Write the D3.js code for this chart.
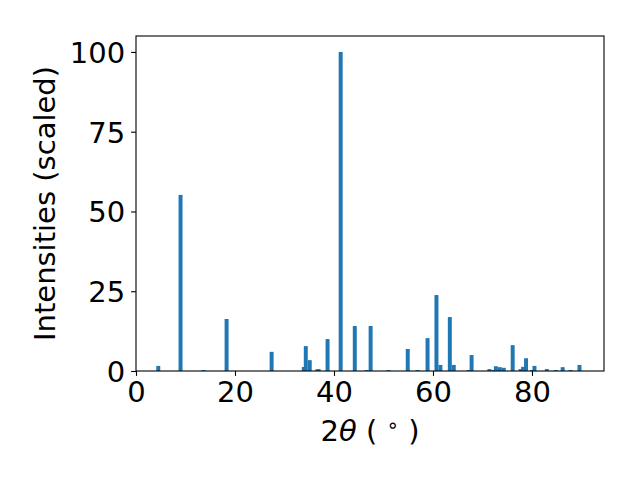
<!DOCTYPE html>
<html>
<head>
<meta charset="utf-8">
<script src="https://cdn.jsdelivr.net/npm/d3@7"></script>
<style>
  body { margin: 0; background: #fff; }
  svg { display: block; font-family: "DejaVu Sans", sans-serif; }
</style>
</head>
<body>
<svg width="640" height="480"></svg>
<script>
// peak positions (2θ, degrees) and scaled intensities
const twoTheta = [
    4.5, 9.0, 13.65, 18.3, 27.4, 33.9, 34.3, 35.1, 36.6, 36.9,
    38.7, 41.35, 44.2, 46.6, 47.4, 51.0, 54.9, 56.9, 58.9, 60.7,
    61.5, 63.4, 64.2, 67.2, 67.8, 71.4, 72.2, 72.7, 73.5, 74.3,
    76.1, 77.7, 78.2, 78.8, 80.0, 80.5, 83.0, 84.8, 86.2, 87.8, 89.6
];
const intensity = [
    1.6, 55.2, 0.3, 16.3, 6.0, 1.25, 7.8, 3.4, 0.5, 0.6,
    10.0, 100, 14.1, 0.3, 14.1, 0.3, 6.9, 0.3, 10.3, 23.8,
    1.9, 16.9, 1.9, 0.3, 5.0, 0.6, 0.3, 1.5, 1.2, 1.0,
    8.1, 0.6, 1.3, 4.0, 0.3, 1.6, 0.6, 0.3, 1.2, 0.3, 1.9
];
const xTicks = [0, 20, 40, 60, 80];
const yTicks = [0, 25, 50, 75, 100];

const data = twoTheta.map((t, i) => ({ t: t, v: intensity[i] }));

const plotL = 136, plotR = 604, plotT = 36, plotB = 371;
const barWidth = 0.8;
const fontSize = 29;

const x = d3.scaleLinear().domain([0, 94.55]).range([plotL, plotR]);
const y = d3.scaleLinear().domain([0, 105]).range([plotB, plotT]);

const svg = d3.select("svg");

svg.append("g")
    .selectAll("rect")
    .data(data)
    .join("rect")
    .attr("x", d => x(d.t - barWidth / 2))
    .attr("width", d => x(d.t + barWidth / 2) - x(d.t - barWidth / 2))
    .attr("y", d => y(d.v))
    .attr("height", d => y(0) - y(d.v))
    .attr("fill", "#1f77b4");

const xAxis = svg.append("g")
    .attr("transform", `translate(0,${plotB})`)
    .call(d3.axisBottom(x).tickValues(xTicks).tickSize(4.9).tickSizeOuter(0).tickPadding(6));

const yAxis = svg.append("g")
    .attr("transform", `translate(${plotL},0)`)
    .call(d3.axisLeft(y).tickValues(yTicks).tickSize(4.9).tickSizeOuter(0).tickPadding(6));

for (const ax of [xAxis, yAxis]) {
    ax.select(".domain").remove();
    ax.selectAll(".tick line").attr("stroke", "#000").attr("stroke-width", 1.1);
    ax.selectAll(".tick text")
        .attr("fill", "#000")
        .style("font-size", fontSize + "px")
        .style("font-family", "'DejaVu Sans', sans-serif");
}
yAxis.selectAll(".tick text").attr("dy", "0.36em");

// frame
svg.append("rect")
    .attr("x", plotL)
    .attr("y", plotT)
    .attr("width", plotR - plotL)
    .attr("height", plotB - plotT)
    .attr("fill", "none")
    .attr("stroke", "#000")
    .attr("stroke-width", 1.1);

// axis labels
const xl = svg.append("text")
    .attr("x", (plotL + plotR) / 2)
    .attr("y", 441)
    .attr("text-anchor", "middle")
    .style("font-size", fontSize + "px");
xl.append("tspan").text("2");
xl.append("tspan").attr("font-style", "italic").text("θ");
xl.append("tspan").text(" ( ");
xl.append("tspan").attr("font-size", "20px").attr("dy", "-0.45em").text("∘");
xl.append("tspan").attr("dy", "0.31em").text(" )");

svg.append("text")
    .attr("transform", `translate(55,${(plotT + plotB) / 2}) rotate(-90)`)
    .attr("text-anchor", "middle")
    .style("font-size", fontSize + "px")
    .text("Intensities (scaled)");
</script>
</body>
</html>
